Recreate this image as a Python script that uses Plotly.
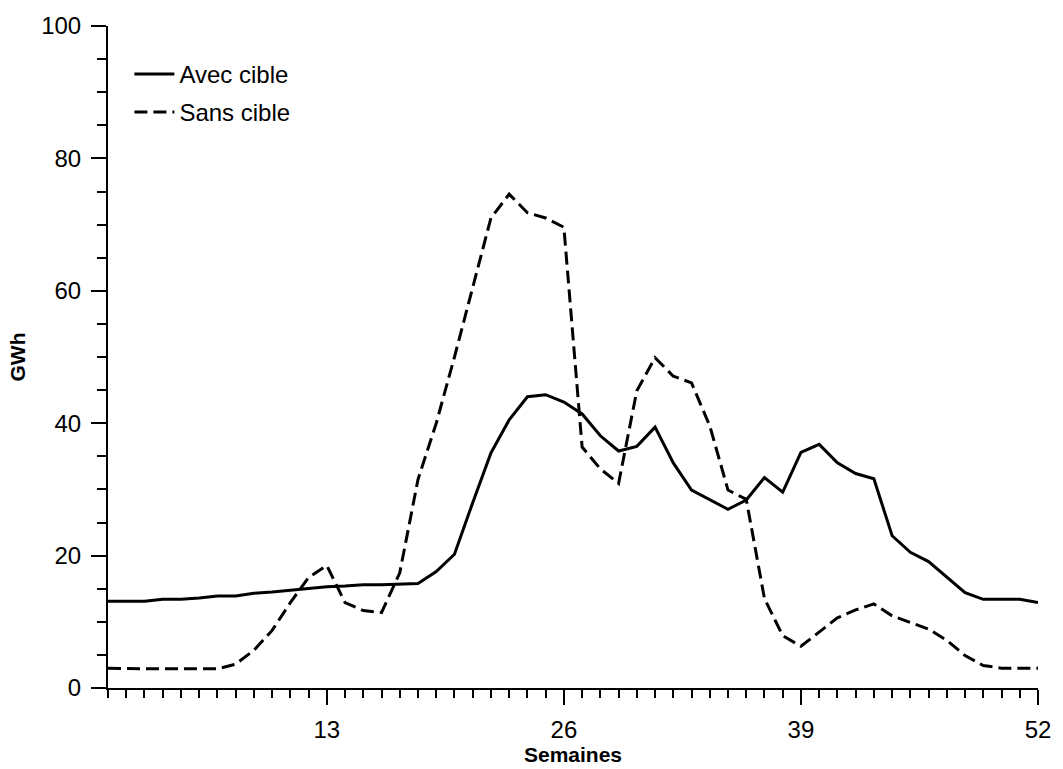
import plotly.graph_objects as go

weeks = list(range(1, 53))
avec_cible = [13.1, 13.1, 13.1, 13.4, 13.4, 13.6, 13.9, 13.9, 14.3, 14.5,
              14.8, 15.0, 15.3, 15.4, 15.6, 15.6, 15.7, 15.8, 17.6, 20.2,
              28.0, 35.5, 40.5, 44.0, 44.3, 43.2, 41.4, 38.1, 35.8, 36.5,
              39.4, 34.0, 29.9, 28.4, 27.0, 28.4, 31.8, 29.6, 35.6, 36.8,
              34.0, 32.4, 31.6, 23.0, 20.5, 19.1, 16.8, 14.4, 13.4, 13.4,
              13.4, 12.9]
sans_cible = [3.0, 2.9, 2.9, 2.9, 2.9, 2.9, 2.9, 3.6, 5.7, 8.7,
              12.9, 16.7, 18.5, 12.9, 11.7, 11.4, 17.4, 31.5, 40.0, 50.0,
              60.5, 71.0, 74.6, 71.8, 71.0, 69.6, 36.4, 33.1, 30.9, 44.9,
              49.9, 47.1, 46.1, 39.6, 29.9, 28.5, 13.5, 7.9, 6.3, 8.4,
              10.6, 11.8, 12.7, 10.9, 9.9, 8.9, 7.2, 4.9, 3.4, 3.0,
              3.0, 3.0]
x_ticks = [13, 26, 39, 52]
y_ticks = [0, 20, 40, 60, 80, 100]

FONT = "Liberation Sans, Arial, sans-serif"

fig = go.Figure()
fig.add_trace(go.Scatter(x=weeks, y=avec_cible, mode="lines", name="Avec cible",
                         legendgroup="a",
                         line=dict(color="black", width=3)))
fig.add_trace(go.Scatter(x=weeks, y=sans_cible, mode="lines", name="Sans cible",
                         legendgroup="b",
                         line=dict(color="black", width=3, dash="13px,6px")))

fig.update_layout(
    width=1063, height=769,
    margin=dict(l=108, r=19, t=25, b=76),
    paper_bgcolor="white", plot_bgcolor="white",
    font=dict(family=FONT, size=24, color="black"),
    showlegend=True,
    legend=dict(x=0.023, y=0.961, xanchor="left", yanchor="top",
                bgcolor="rgba(0,0,0,0)", font=dict(size=24),
                tracegroupgap=4, itemwidth=40),
    xaxis=dict(range=[1, 52], tickmode="array", tickvals=x_ticks,
               ticktext=[str(v) for v in x_ticks],
               tickfont=dict(size=24),
               showline=True, linecolor="black", linewidth=2,
               ticks="outside", ticklen=15, tickwidth=2, tickcolor="black",
               showgrid=False, zeroline=False, ticklabelstandoff=4,
               minor=dict(tick0=1, dtick=1, ticks="outside", ticklen=8,
                          tickwidth=2, tickcolor="black", showgrid=False),
               title=dict(text="<b>Semaines</b>", standoff=0,
                          font=dict(size=21))),
    yaxis=dict(range=[0, 100], tickmode="array", tickvals=y_ticks,
               tickfont=dict(size=24),
               showline=True, linecolor="black", linewidth=2,
               ticks="outside", ticklen=15, tickwidth=2, tickcolor="black",
               showgrid=False, zeroline=False, ticklabelstandoff=5,
               minor=dict(dtick=5, ticks="outside", ticklen=9,
                          tickwidth=2, tickcolor="black", showgrid=False),
               title=dict(text="<b>GWh</b>", standoff=10,
                          font=dict(size=21))),
)

fig.write_html("out.html")
